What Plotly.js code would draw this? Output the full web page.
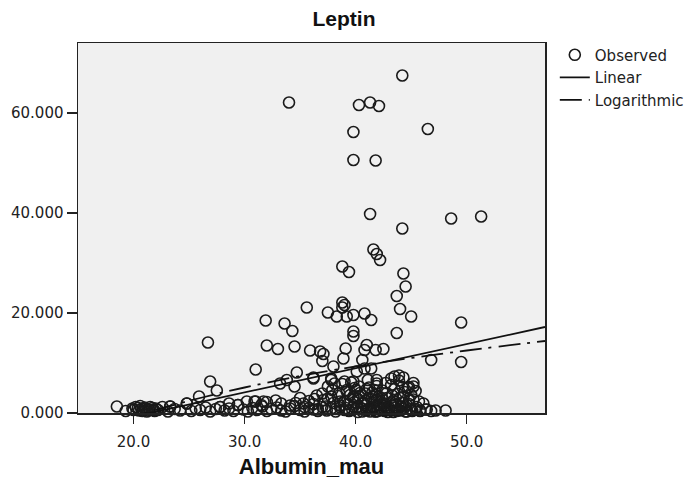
<!DOCTYPE html>
<html>
<head>
<meta charset="utf-8">
<script src="https://cdn.plot.ly/plotly-3.0.1.min.js"></script>
<style>html,body{margin:0;padding:0;background:#fff;}#chart{width:688px;height:491px;}</style>
</head>
<body>
<div id="chart"></div>
<script>
const albuminUpper = [34.0,44.2,40.3,41.3,42.1,39.8,46.5,39.8,41.8,41.3,44.2,48.6,51.3,41.6,41.9,42.2,38.8,39.4,44.3,44.5,43.7,38.8,39.0,35.6,38.8,37.5,38.3,39.2,39.8,40.8,41.4,44.0,45.0,49.5,31.9,33.6,34.3,39.8,39.8,43.7];
const leptinUpper  = [62.1,67.5,61.6,62.1,61.4,56.2,56.8,50.6,50.5,39.8,36.9,38.9,39.3,32.7,31.8,30.6,29.3,28.2,27.9,25.3,23.4,22.1,21.6,21.1,21.1,20.1,19.3,19.3,19.6,19.9,18.6,20.8,19.3,18.1,18.5,17.9,16.4,16.3,15.4,16.0];

const albuminMidLeft = [26.7,32.0,33.0,34.5,35.9,36.8,37.1,37.0,38.0,39.1,38.9,31.0,34.7,34.5,36.2,36.5,36.3,26.9,27.5,25.9];
const leptinMidLeft  = [14.1,13.5,12.8,13.3,12.5,12.3,11.8,10.4,9.3,12.9,10.9,8.7,8.1,5.3,7.1,3.5,2.8,6.3,4.5,3.3];

const albuminMidRight = [41.0,41.8,42.5,46.8,49.5,40.8,40.6,41.4,41.9,40.1,39.8,36.2,37.8,39.0,41.9,43.2,44.3,45.2,43.5,45.2,40.8,37.8,38.1,37.5,37.8,39.2,37.1,38.6,39.8,41.7,41.9,44.8,43.9];
const leptinMidRight  = [13.6,12.6,12.8,10.6,10.2,12.6,10.6,8.9,5.9,8.3,6.3,6.9,6.6,6.3,6.6,6.9,7.1,5.3,7.3,6.0,8.9,6.9,5.9,5.3,3.3,4.6,2.6,2.3,3.3,4.6,2.6,5.2,7.5];

const albuminLowMid = [30.2,31.0,32.0,32.8,34.1,34.6,35.0,35.4,35.8,33.3,29.4,28.6,27.8,31.5,33.2,33.8,31.7,30.9,35.3,24.8,23.3];
const leptinLowMid  = [2.3,2.3,2.2,2.5,1.5,2.0,3.0,1.2,2.4,1.9,1.6,1.9,1.2,1.6,5.9,6.6,2.3,2.3,1.9,1.9,1.3];

const albuminCluster1 = [38.2,38.6,39.0,39.4,39.8,40.1,40.4,40.7,41.0,41.2,41.4,41.6,41.8,42.0,42.2,42.4,42.6,42.8,43.0,43.2,43.4,43.6,43.8,44.0,44.2,44.4,44.6,44.9,45.2,45.5,45.8,46.1];
const leptinCluster1  = [0.8,1.5,2.4,0.5,3.1,1.2,4.0,2.0,0.6,5.1,2.8,1.0,3.6,0.4,2.2,4.5,1.4,3.0,0.7,5.6,2.5,1.1,3.8,0.5,2.0,4.2,1.6,0.8,2.7,1.2,0.5,1.9];

const albuminCluster2 = [37.5,37.9,38.4,38.8,39.2,39.6,39.9,40.3,40.6,40.9,41.1,41.5,41.9,42.3,42.7,43.1,43.5,43.9,44.3,44.7,45.0,45.4,45.7];
const leptinCluster2  = [2.9,4.6,3.4,5.8,4.3,6.1,2.2,5.3,0.3,3.9,6.6,4.1,5.4,0.9,6.0,1.9,4.8,6.5,3.2,5.0,3.6,4.4,2.3];

const albuminCluster3 = [36.2,36.6,37.0,37.3,38.0,39.1,39.5,40.0,40.2,40.8,41.3,41.7,42.1,42.5,42.9,43.3,43.7,44.1,44.5,44.8,45.1,46.4,46.8,47.2];
const leptinCluster3  = [1.8,0.7,3.9,1.3,2.0,1.0,3.6,0.8,2.8,1.5,0.3,2.4,3.3,1.9,0.2,3.5,0.4,1.3,0.3,2.5,0.4,0.7,0.4,0.5];

const albuminCluster4 = [39.3,39.7,40.0,40.5,40.9,41.2,41.5,41.8,42.0,42.4,42.8,43.2,43.6,44.0,44.4,44.8,40.3,41.0,41.6,42.6,43.4,44.2,38.5,39.9];
const leptinCluster4  = [1.8,0.6,4.6,1.0,2.5,0.9,3.2,0.3,1.6,2.9,4.0,0.5,2.2,3.0,1.0,1.8,3.4,4.8,1.3,0.6,1.5,5.2,4.0,5.0];

const albuminBottom = [18.5,19.3,19.9,20.2,20.5,20.7,21.0,21.2,21.4,21.7,21.9,22.2,22.6,23.1,23.3,23.7,24.2,24.8,25.2,25.6,26.0,26.5,26.9,27.4,27.8,28.2,28.6,29.0,29.4,29.9,30.3,30.7,31.1,31.6,32.0,32.4,32.9,33.3,33.7,34.1,34.5,35.0,35.4,35.8,36.2,36.6,37.0,37.4,37.8,38.2,38.6,39.0,39.4,39.8,40.2,40.6,41.0,41.4,41.8,42.2,42.6,43.0,43.4,43.8,44.2,44.6,45.0,45.4,45.8,46.3,48.1];
const leptinBottom  = [1.3,0.4,0.9,1.2,0.5,0.8,1.1,0.3,0.7,1.0,0.4,0.6,1.2,0.3,1.3,0.8,0.5,1.9,0.4,0.9,0.6,1.1,0.3,0.8,1.2,0.5,0.9,0.4,1.6,0.7,0.3,1.0,0.6,1.3,0.4,0.8,1.1,0.5,0.3,0.9,1.4,0.6,0.3,1.0,0.7,0.4,1.2,0.5,0.9,0.3,1.1,0.6,0.4,1.3,0.2,0.8,0.5,1.0,0.3,0.7,0.4,1.1,0.2,0.6,0.9,0.3,0.5,0.8,0.4,0.7,0.5];

const albuminLeftDense = [20.0,20.4,20.8,21.1,21.5,21.8,22.0,20.6,21.3];
const leptinLeftDense  = [0.6,1.0,0.4,0.9,1.2,0.6,0.9,1.4,0.5];

// ---- Fit lines ----
const linearAlbumin = [18.5, 57.05];
const linearLeptin  = [-1.45, 17.2];
const logAlbumin = [18.5, 22, 26, 30, 35, 40, 45, 50, 57.05];
const logLeptin  = [-1.9, 0.6, 3.0, 5.1, 7.4, 9.3, 11.0, 12.5, 14.4];

const xTicks = [20, 30, 40, 50];
const yTicks = [0, 20, 40, 60];

const obsX = [].concat(albuminUpper, albuminMidLeft, albuminMidRight, albuminLowMid, albuminCluster1, albuminCluster2, albuminCluster3, albuminCluster4, albuminBottom, albuminLeftDense);
const obsY = [].concat(leptinUpper, leptinMidLeft, leptinMidRight, leptinLowMid, leptinCluster1, leptinCluster2, leptinCluster3, leptinCluster4, leptinBottom, leptinLeftDense);

const ink = '#222222';
const tickFont = {family: 'DejaVu Sans, sans-serif', size: 15, color: ink};

const traces = [
  {x: obsX, y: obsY, type: 'scatter', mode: 'markers', name: 'Observed', cliponaxis: false,
   marker: {symbol: 'circle-open', size: 11, color: '#1a1a1a', line: {width: 1.6}}},
  {x: linearAlbumin, y: linearLeptin, type: 'scatter', mode: 'lines', name: 'Linear',
   line: {color: '#111', width: 1.8}},
  {x: logAlbumin, y: logLeptin, type: 'scatter', mode: 'lines', name: 'Logarithmic', line: {shape: 'spline',
   color: '#111', width: 1.8, dash: '22px,7px,3px,7px'}}
];

const layout = {
  width: 688, height: 491,
  margin: {l: 78, r: 143, t: 43, b: 78, pad: 0, autoexpand: false},
  paper_bgcolor: '#ffffff', plot_bgcolor: '#F0F0F0',
  showlegend: true,
  title: {text: 'Leptin', x: 0.5, xref: 'container', y: 0.963, yref: 'container', yanchor: 'middle',
          font: {family: 'Liberation Sans, Arial, sans-serif', size: 21, weight: 'bold', color: '#111'}},
  xaxis: {range: [15, 57.05], tickvals: xTicks, tickformat: '.1f', ticks: 'outside', ticklen: 9, tickwidth: 1.5,
          tickcolor: ink, showline: true, linecolor: ink, linewidth: 1.5, mirror: true, showgrid: false, zeroline: false,
          tickfont: tickFont, ticklabelstandoff: 5,
          title: {text: 'Albumin_mau', standoff: 9, font: {family: 'Liberation Sans, Arial, sans-serif', size: 22, weight: 'bold', color: '#111'}}},
  yaxis: {range: [0, 74], tickvals: yTicks, tickformat: '.3f', ticks: 'outside', ticklen: 10, tickwidth: 1.5,
          tickcolor: ink, showline: true, linecolor: ink, linewidth: 1.5, mirror: true, showgrid: false, zeroline: false,
          tickfont: tickFont},
  legend: {x: 1.021, xanchor: 'left', y: 1.012, yanchor: 'top', bgcolor: 'rgba(0,0,0,0)',
           font: {family: 'DejaVu Sans, sans-serif', size: 15, color: ink}, tracegroupgap: 0}
};

Plotly.newPlot('chart', traces, layout, {displayModeBar: false, staticPlot: true});
</script>
</body>
</html>
